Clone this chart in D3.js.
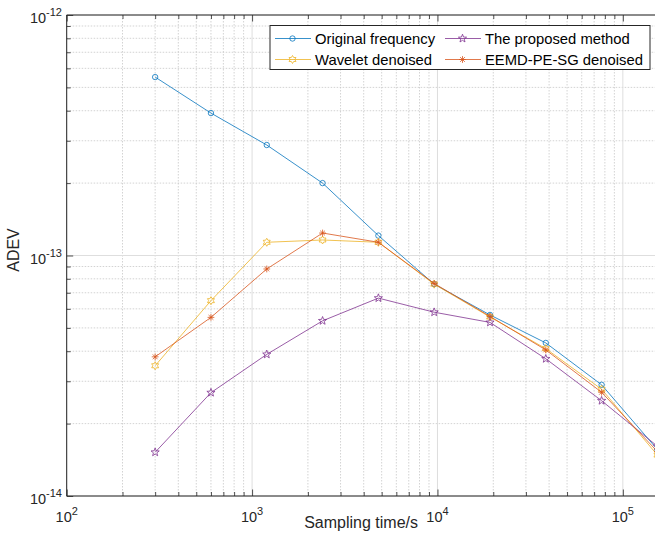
<html>
<head>
    <title>ADEV</title>
    <script src="https://cdn.jsdelivr.net/npm/d3@7"></script>
    <style>
        body { margin: 0; background: #fff; }
        svg { display: block; font-family: "Liberation Sans", Arial, sans-serif; }
    </style>
</head>
<body>
    <svg id="chart"></svg>
<script>
//Global Variables
const WIDTH = 655
const HEIGHT = 545
const MARGIN = { left: 66.7, top: 15, right: 655.5, bottom: 496 }

// data
const tau = [300, 600, 1200, 2400, 4800, 9600, 19200, 38400, 76800, 153600]
const original = [5.52e-13, 3.91e-13, 2.88e-13, 2.00e-13, 1.21e-13, 7.6e-14, 5.66e-14, 4.33e-14, 2.90e-14, 1.56e-14]
const wavelet = [3.48e-14, 6.49e-14, 1.135e-13, 1.16e-13, 1.135e-13, 7.6e-14, 5.55e-14, 4.1e-14, 2.78e-14, 1.48e-14]
const proposed = [1.52e-14, 2.69e-14, 3.88e-14, 5.35e-14, 6.65e-14, 5.81e-14, 5.27e-14, 3.72e-14, 2.49e-14, 1.61e-14]
const eemd = [3.79e-14, 5.53e-14, 8.79e-14, 1.24e-13, 1.135e-13, 7.65e-14, 5.58e-14, 4.05e-14, 2.70e-14, 1.53e-14]

const xTicks = [1e2, 1e3, 1e4, 1e5]
const xTickExp = ["2", "3", "4", "5"]
const yTicks = [1e-14, 1e-13, 1e-12]
const yTickExp = ["-14", "-13", "-12"]

const seriesNames = ["Original frequency", "Wavelet denoised", "The proposed method", "EEMD-PE-SG denoised"]
const seriesColors = ["#0072BD", "#EDB120", "#7E2F8E", "#D95319"]
const seriesMarkers = ["circle", "hexagram", "pentagram", "asterisk"]

const AXIS_COLOR = "#262626"

const svg = d3.select("#chart").attr("width", WIDTH).attr("height", HEIGHT)

const x = d3.scaleLog().domain([100, 1.5e5]).range([MARGIN.left, MARGIN.right])
const y = d3.scaleLog().domain([1e-14, 1e-12]).range([MARGIN.bottom, MARGIN.top])

//-------------------------- Grid --------------------------
const xMinor = []
const yMinor = []
for (let d = 1e2; d < 1e6; d *= 10)
    for (let k = 2; k <= 9; k++) if (d * k <= 1.5e5) xMinor.push(d * k)
for (let d = 1e-14; d < 1e-12; d *= 10)
    for (let k = 2; k <= 9; k++) yMinor.push(d * k)

const grid = svg.append("g")
grid.selectAll(".xminor").data(xMinor).enter().append("line")
    .attr("x1", d => x(d)).attr("x2", d => x(d))
    .attr("y1", MARGIN.top).attr("y2", MARGIN.bottom)
    .attr("stroke", "#c8c8c8").attr("stroke-width", 0.8).attr("stroke-dasharray", "1.5,1.5")
grid.selectAll(".yminor").data(yMinor).enter().append("line")
    .attr("x1", MARGIN.left).attr("x2", MARGIN.right)
    .attr("y1", d => y(d)).attr("y2", d => y(d))
    .attr("stroke", "#c8c8c8").attr("stroke-width", 0.8).attr("stroke-dasharray", "1.5,1.5")
grid.selectAll(".xmajor").data(xTicks).enter().append("line")
    .attr("x1", d => x(d)).attr("x2", d => x(d))
    .attr("y1", MARGIN.top).attr("y2", MARGIN.bottom)
    .attr("stroke", "#dedede").attr("stroke-width", 1)
grid.selectAll(".ymajor").data(yTicks).enter().append("line")
    .attr("x1", MARGIN.left).attr("x2", MARGIN.right)
    .attr("y1", d => y(d)).attr("y2", d => y(d))
    .attr("stroke", "#dedede").attr("stroke-width", 1)

//-------------------------- Axes --------------------------
// bottom & top (ticks pointing inward)
const xAxisB = d3.axisBottom(x).tickValues(xTicks).tickSize(-6.5).tickFormat("")
const xAxisBm = d3.axisBottom(x).tickValues(xMinor).tickSize(-4).tickFormat("")
const xAxisT = d3.axisTop(x).tickValues(xTicks).tickSize(-6.5).tickFormat("")
const xAxisTm = d3.axisTop(x).tickValues(xMinor).tickSize(-4).tickFormat("")
const yAxisL = d3.axisLeft(y).tickValues(yTicks).tickSize(-6.5).tickFormat("")
const yAxisLm = d3.axisLeft(y).tickValues(yMinor).tickSize(-4).tickFormat("")

function styleAxis(g) {
    g.select(".domain").remove()
    g.selectAll(".tick line").attr("stroke", AXIS_COLOR).attr("stroke-width", 0.8)
}
svg.append("g").attr("transform", `translate(0,${MARGIN.bottom})`).call(xAxisB).call(styleAxis)
svg.append("g").attr("transform", `translate(0,${MARGIN.bottom})`).call(xAxisBm).call(styleAxis)
svg.append("g").attr("transform", `translate(0,${MARGIN.top})`).call(xAxisT).call(styleAxis)
svg.append("g").attr("transform", `translate(0,${MARGIN.top})`).call(xAxisTm).call(styleAxis)
svg.append("g").attr("transform", `translate(${MARGIN.left},0)`).call(yAxisL).call(styleAxis)
svg.append("g").attr("transform", `translate(${MARGIN.left},0)`).call(yAxisLm).call(styleAxis)

// box lines
svg.append("line").attr("x1", MARGIN.left).attr("x2", MARGIN.right).attr("y1", MARGIN.bottom).attr("y2", MARGIN.bottom)
    .attr("stroke", AXIS_COLOR).attr("stroke-width", 1)
svg.append("line").attr("x1", MARGIN.left).attr("x2", MARGIN.right).attr("y1", MARGIN.top).attr("y2", MARGIN.top)
    .attr("stroke", AXIS_COLOR).attr("stroke-width", 1)
svg.append("line").attr("x1", MARGIN.left).attr("x2", MARGIN.left).attr("y1", MARGIN.top).attr("y2", MARGIN.bottom)
    .attr("stroke", AXIS_COLOR).attr("stroke-width", 1)

// tick labels with superscripts
xTicks.forEach((t, i) => {
    const lab = svg.append("text")
        .attr("x", x(t)).attr("y", 521.5)
        .attr("text-anchor", "middle")
        .attr("fill", AXIS_COLOR).attr("font-size", 14.5)
    lab.append("tspan").text("10")
    lab.append("tspan").text(xTickExp[i]).attr("font-size", 11).attr("dy", -7)
})
yTicks.forEach((t, i) => {
    const lab = svg.append("text")
        .attr("x", 62).attr("y", y(t) + 8)
        .attr("text-anchor", "end")
        .attr("fill", AXIS_COLOR).attr("font-size", 14.5)
    lab.append("tspan").text("10")
    lab.append("tspan").text(yTickExp[i]).attr("font-size", 11).attr("dy", -7)
})

// axis labels
svg.append("text")
    .attr("x", (MARGIN.left + MARGIN.right) / 2).attr("y", 528)
    .attr("text-anchor", "middle").attr("fill", AXIS_COLOR).attr("font-size", 16)
    .text("Sampling time/s")
svg.append("text")
    .attr("transform", `translate(19,250) rotate(-90)`)
    .attr("text-anchor", "middle").attr("fill", AXIS_COLOR).attr("font-size", 16)
    .text("ADEV")

//-------------------------- Lines & markers --------------------------
function markerPath(type, r) {
    if (type === "pentagram" || type === "hexagram") {
        const n = type === "pentagram" ? 5 : 6
        const ri = type === "pentagram" ? r * 0.42 : r * 0.58
        const pts = []
        for (let i = 0; i < 2 * n; i++) {
            const a = -Math.PI / 2 + i * Math.PI / n
            const rr = i % 2 === 0 ? r : ri
            pts.push([rr * Math.cos(a), rr * Math.sin(a)])
        }
        return "M" + pts.map(p => p.join(",")).join("L") + "Z"
    }
    if (type === "asterisk") {
        let p = ""
        for (let i = 0; i < 4; i++) {
            const a = i * Math.PI / 4
            p += `M${-r * Math.cos(a)},${-r * Math.sin(a)}L${r * Math.cos(a)},${r * Math.sin(a)}`
        }
        return p
    }
    return d3.symbol(d3.symbolCircle, Math.PI * r * r)()
}
const markerSize = { circle: 2.7, hexagram: 4, pentagram: 4.3, asterisk: 3.4 }
const LINE_OPACITY = 0.78

const seriesData = [original, wavelet, proposed, eemd]

svg.append("clipPath").attr("id", "plotClip").append("rect")
    .attr("x", MARGIN.left).attr("y", MARGIN.top)
    .attr("width", MARGIN.right - MARGIN.left).attr("height", MARGIN.bottom - MARGIN.top)

const body = svg.append("g").attr("clip-path", "url(#plotClip)")
const line = d3.line().x(d => x(d[0])).y(d => y(d[1]))

// draw in order: original, wavelet, proposed, eemd
seriesData.forEach((vals, i) => {
    const pts = tau.map((t, j) => [t, vals[j]])
    body.append("path").datum(pts)
        .attr("fill", "none").attr("stroke", seriesColors[i]).attr("stroke-width", 1)
        .attr("stroke-opacity", LINE_OPACITY)
        .attr("d", line)
    body.selectAll(null).data(pts).enter().append("path")
        .attr("transform", d => `translate(${x(d[0])},${y(d[1])})`)
        .attr("d", markerPath(seriesMarkers[i], markerSize[seriesMarkers[i]]))
        .attr("fill", "none").attr("stroke", seriesColors[i]).attr("stroke-width", 1)
        .attr("stroke-opacity", LINE_OPACITY)
})

//-------------------------- Legend --------------------------
const legend = svg.append("g")
legend.append("rect")
    .attr("x", 270).attr("y", 25.5).attr("width", 380).attr("height", 44)
    .attr("fill", "#fff").attr("stroke", AXIS_COLOR).attr("stroke-width", 1)

// MATLAB fills 2 columns row by row
const legendOrder = [0, 2, 1, 3]
legendOrder.forEach((si, k) => {
    const col = k % 2, row = Math.floor(k / 2)
    const lx = col === 0 ? 275 : 445
    const ly = row === 0 ? 38.5 : 59.5
    legend.append("line").attr("x1", lx).attr("x2", lx + 36).attr("y1", ly).attr("y2", ly)
        .attr("stroke", seriesColors[si]).attr("stroke-width", 1).attr("stroke-opacity", LINE_OPACITY)
    legend.append("path")
        .attr("transform", `translate(${lx + 17.5},${ly})`)
        .attr("d", markerPath(seriesMarkers[si], markerSize[seriesMarkers[si]]))
        .attr("fill", "none").attr("stroke", seriesColors[si]).attr("stroke-width", 1)
        .attr("stroke-opacity", LINE_OPACITY)
    legend.append("text")
        .attr("x", lx + 40).attr("y", ly + 5.3)
        .attr("fill", "#000").attr("font-size", 14.8)
        .text(seriesNames[si])
})
</script>
</body>
</html>
